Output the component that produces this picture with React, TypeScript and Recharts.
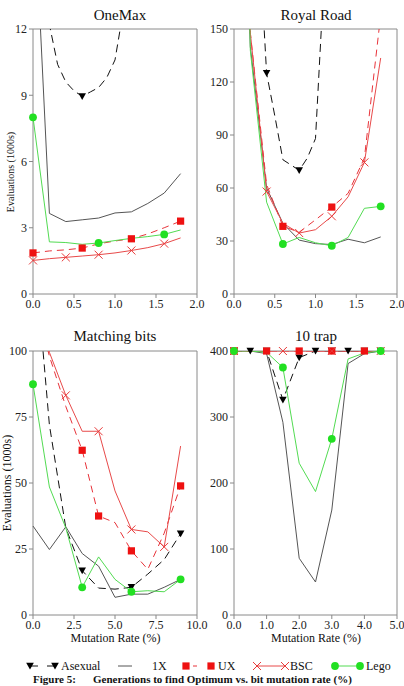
import React from 'react'
import { ComposedChart, Line, Scatter, XAxis, YAxis, ReferenceArea } from 'recharts'

const FONT = '"Liberation Serif", "Times New Roman", serif'

// OneMax, mutation rate (%) vs evaluations (1000s)
const oneMaxRates = [0, 0.2, 0.4, 0.6, 0.8, 1.0, 1.2, 1.4, 1.6, 1.8]
const oneMaxAsexualRates = [0.1, 0.2, 0.3, 0.4, 0.5, 0.6, 0.7, 0.8, 0.9, 1.0, 1.1]
const oneMaxAsexual = [17, 12.2, 10.4, 9.6, 9.2, 8.95, 9.15, 9.35, 9.8, 10.6, 12.8]
const oneMax1X = [19, 3.65, 3.28, 3.36, 3.44, 3.67, 3.72, 4.1, 4.57, 5.45]
const oneMaxUX = [1.86, 1.95, 2.0, 2.08, 2.27, 2.4, 2.5, 2.72, 3.0, 3.3]
const oneMaxBSC = [1.52, 1.6, 1.66, 1.72, 1.78, 1.86, 1.97, 2.1, 2.28, 2.54]
const oneMaxLego = [8.0, 2.36, 2.33, 2.25, 2.31, 2.42, 2.52, 2.6, 2.7, 2.9]

// Royal Road
const royalRates = [0, 0.2, 0.4, 0.6, 0.8, 1.0, 1.2, 1.4, 1.6, 1.8]
const royalAsexualRates = [0.3, 0.4, 0.5, 0.6, 0.7, 0.8, 0.9, 1.0, 1.1]
const royalAsexual = [208, 125, 101, 76, 73, 70, 77, 88, 175]
const royal1X = [400, 140, 60, 40, 30.5, 28.5, 28, 31, 29, 32.3]
const royalUX = [400, 148, 62, 38.3, 35, 42, 49.2, 57, 77, 158]
const royalBSC = [400, 148, 58, 40, 34.5, 36.4, 44, 55, 74.5, 133.6]
const royalLego = [600, 138, 52, 28.3, 32, 29, 27.3, 32, 48.5, 49.6]

// Matching bits
const matchRates = [0, 1, 2, 3, 4, 5, 6, 7, 8, 9]
const matchAsexual = [144, 72, 33, 16.8, 10.2, 9.8, 10.5, 15.5, 21, 30.8]
const match1X = [33.7, 24.8, 33.4, 23.3, 18.5, 6.7, 7.9, 7.9, 10.5, 13.5]
const matchUX = [123, 98, 79, 62.4, 37.5, 35, 24.3, 17.3, 31, 48.9]
const matchBSC = [140, 99.5, 83.2, 69.6, 69.6, 47, 32.4, 31.5, 25.8, 64]
const matchLego = [87.4, 48.5, 33, 10.5, 22, 13.5, 8.8, 9.2, 8.8, 13.5]

// 10 trap
const trapRates = [0, 0.5, 1.0, 1.5, 2.0, 2.5, 3.0, 3.5, 4.0, 4.5]
const trapAsexual = [400, 400, 400, 326, 390, 400, 400, 400, 400, 400]
const trap1X = [400, 400, 396, 292, 86, 50, 159, 381, 396, 400]
const trapUX = [400, 400, 400, 400, 400, 400, 400, 400, 400, 400]
const trapBSC = [400, 400, 400, 400, 400, 400, 400, 400, 400, 400]
const trapLego = [400, 400, 398, 375, 230, 187, 267, 388, 397, 400]

// rates that carry a point symbol
const oneMaxMarks = { asexual: [0.6], ux: [0, 0.6, 1.2, 1.8], bsc: [0, 0.4, 0.8, 1.2, 1.6], lego: [0, 0.8, 1.6] }
const royalMarks = { asexual: [0.4, 0.8], ux: [0.6, 1.2], bsc: [0.4, 0.8, 1.2, 1.6], lego: [0.6, 1.2, 1.8] }
const matchMarks = { asexual: [3, 6, 9], ux: [3, 4, 6, 9], bsc: [2, 4, 6, 8], lego: [0, 3, 6, 9] }
const trapMarks = { asexual: trapRates, ux: [0, 1, 2, 3, 4], bsc: [0, 1.5, 3, 4.5], lego: [0, 1.5, 3, 4.5] }

const oneMaxXTicks = [0, 0.5, 1, 1.5, 2]
const oneMaxYTicks = [0, 3, 6, 9, 12]
const royalYTicks = [0, 30, 60, 90, 120, 150]
const matchXTicks = [0, 2.5, 5, 7.5, 10]
const matchYTicks = [0, 25, 50, 75, 100]
const trapXTicks = [0, 1, 2, 3, 4, 5]
const trapYTicks = [0, 100, 200, 300, 400]

type Kind = 'asexual' | 'onex' | 'ux' | 'bsc' | 'lego'

const STYLE: Record<Kind, { stroke: string; dash?: string }> = {
  asexual: { stroke: '#111', dash: '8 5' },
  onex: { stroke: '#555' },
  ux: { stroke: '#e8333a', dash: '7 5' },
  bsc: { stroke: '#e84a4a' },
  lego: { stroke: '#52db52' }
}

function Marker({ kind, cx, cy }: { kind: Kind; cx: number; cy: number }) {
  if (kind === 'asexual')
    return <path d={`M${cx - 3.8},${cy - 3.2}L${cx + 3.8},${cy - 3.2}L${cx},${cy + 3.6}Z`} fill="#000" />
  if (kind === 'ux') return <rect x={cx - 3.6} y={cy - 3.6} width={7.2} height={7.2} fill="#ee1111" />
  if (kind === 'bsc')
    return (
      <path
        d={`M${cx - 4},${cy - 4}L${cx + 4},${cy + 4}M${cx + 4},${cy - 4}L${cx - 4},${cy + 4}`}
        stroke="#e83a3a"
        strokeWidth={1}
        fill="none"
      />
    )
  if (kind === 'lego') return <circle cx={cx} cy={cy} r={3.9} fill="#22e022" />
  return null
}

interface SeriesDef {
  kind: Kind
  rates: number[]
  values: number[]
  marks: number[]
}

interface PanelDef {
  title: string
  titleX: number
  left: number
  top: number
  width: number
  margin: { top: number; right: number; left: number }
  yWidth: number
  xMax: number
  xTicks: number[]
  yMax: number
  yTicks: number[]
  xFmt: (v: number) => string
  series: SeriesDef[]
}

const fmt1 = (v: number) => v.toFixed(1)

function build(
  rates: number[],
  asexualRates: number[],
  asexual: number[],
  onex: number[],
  ux: number[],
  bsc: number[],
  lego: number[],
  marks: { asexual: number[]; ux: number[]; bsc: number[]; lego: number[] }
): SeriesDef[] {
  return [
    { kind: 'asexual', rates: asexualRates, values: asexual, marks: marks.asexual },
    { kind: 'onex', rates, values: onex, marks: [] },
    { kind: 'ux', rates, values: ux, marks: marks.ux },
    { kind: 'bsc', rates, values: bsc, marks: marks.bsc },
    { kind: 'lego', rates, values: lego, marks: marks.lego }
  ]
}

const PANELS: PanelDef[] = [
  {
    title: 'OneMax',
    titleX: 120,
    left: 0,
    top: 0,
    width: 210,
    margin: { top: 29, right: 13, left: 5 },
    yWidth: 28,
    xMax: 2,
    xTicks: oneMaxXTicks,
    yMax: 12,
    yTicks: oneMaxYTicks,
    xFmt: fmt1,
    series: build(oneMaxRates, oneMaxAsexualRates, oneMaxAsexual, oneMax1X, oneMaxUX, oneMaxBSC, oneMaxLego, oneMaxMarks)
  },
  {
    title: 'Royal Road',
    titleX: 316,
    left: 200,
    top: 0,
    width: 204,
    margin: { top: 29, right: 7, left: 5 },
    yWidth: 29,
    xMax: 2,
    xTicks: oneMaxXTicks,
    yMax: 150,
    yTicks: royalYTicks,
    xFmt: fmt1,
    series: build(royalRates, royalAsexualRates, royalAsexual, royal1X, royalUX, royalBSC, royalLego, royalMarks)
  },
  {
    title: 'Matching bits',
    titleX: 115,
    left: 0,
    top: 321,
    width: 210,
    margin: { top: 30, right: 13, left: 5 },
    yWidth: 28,
    xMax: 10,
    xTicks: matchXTicks,
    yMax: 100,
    yTicks: matchYTicks,
    xFmt: fmt1,
    series: build(matchRates, matchRates, matchAsexual, match1X, matchUX, matchBSC, matchLego, matchMarks)
  },
  {
    title: '10 trap',
    titleX: 316,
    left: 200,
    top: 321,
    width: 204,
    margin: { top: 30, right: 7, left: 5 },
    yWidth: 29,
    xMax: 5,
    xTicks: trapXTicks,
    yMax: 400,
    yTicks: trapYTicks,
    xFmt: fmt1,
    series: build(trapRates, trapRates, trapAsexual, trap1X, trapUX, trapBSC, trapLego, trapMarks)
  }
]

const tickStyle = { fill: '#222', fontSize: 12, fontFamily: FONT }

function valueAt(s: SeriesDef, x: number) {
  const i = s.rates.findIndex(r => Math.abs(r - x) < 1e-6)
  return s.values[i]
}

function Panel({ p }: { p: PanelDef }) {
  return (
    <div style={{ position: 'absolute', left: p.left, top: p.top }}>
      <ComposedChart width={p.width} height={310} margin={{ ...p.margin, bottom: 0 }}>
        <XAxis
          type="number"
          dataKey="x"
          domain={[0, p.xMax]}
          ticks={p.xTicks}
          interval={0}
          tickFormatter={p.xFmt}
          axisLine={false}
          tickLine={{ stroke: '#888' }}
          tickSize={4}
          tickMargin={1}
          height={16}
          tick={tickStyle}
        />
        <YAxis
          yAxisId="main"
          type="number"
          domain={[0, p.yMax]}
          allowDataOverflow
          ticks={p.yTicks}
          interval={0}
          axisLine={false}
          tickLine={{ stroke: '#888' }}
          tickSize={4}
          tickMargin={2}
          width={p.yWidth}
          tick={tickStyle}
        />
        <YAxis yAxisId="marks" type="number" domain={[0, p.yMax]} hide />
        <ReferenceArea yAxisId="main" x1={0} x2={p.xMax} y1={0} y2={p.yMax} fill="none" stroke="#8a8a8a" strokeWidth={1} />
        {p.series.map(s => (
          <Line
            key={s.kind}
            yAxisId="main"
            data={s.rates.map((x, i) => ({ x, y: s.values[i] }))}
            dataKey="y"
            type="linear"
            stroke={STYLE[s.kind].stroke}
            strokeDasharray={STYLE[s.kind].dash}
            strokeWidth={1}
            dot={false}
            activeDot={false}
            isAnimationActive={false}
          />
        ))}
        {p.series
          .filter(s => s.marks.length > 0)
          .map(s => (
            <Scatter
              key={s.kind + '-marks'}
              yAxisId="marks"
              data={s.marks.map(x => ({ x, y: valueAt(s, x) }))}
              dataKey="y"
              isAnimationActive={false}
              shape={(props: any) => <Marker kind={s.kind} cx={props.cx} cy={props.cy} />}
            />
          ))}
      </ComposedChart>
    </div>
  )
}

function Labels() {
  return (
    <svg
      width={404}
      height={686}
      style={{ position: 'absolute', left: 0, top: 0, pointerEvents: 'none' }}
      fontFamily={FONT}
    >
      {PANELS.map(p => (
        <text key={p.title} x={p.titleX} y={p.top + 19.5} textAnchor="middle" fontSize={15} fill="#111">
          {p.title}
        </text>
      ))}
      <text transform="translate(13.5,172) rotate(-90)" textAnchor="middle" fontSize={10} fill="#111">
        Evaluations (1000s)
      </text>
      <text transform="translate(11,483) rotate(-90)" textAnchor="middle" fontSize={12} fill="#111">
        Evaluations (1000s)
      </text>
      <text x={115.5} y={642} textAnchor="middle" fontSize={12} fill="#111">
        Mutation Rate (%)
      </text>
      <text x={316} y={642} textAnchor="middle" fontSize={12} fill="#111">
        Mutation Rate (%)
      </text>

      {/* key */}
      <g fontSize={12} fill="#111">
        <line x1={30} y1={666} x2={55} y2={666} stroke="#111" strokeDasharray="8 9" />
        <Marker kind="asexual" cx={30} cy={666} />
        <Marker kind="asexual" cx={55} cy={666} />
        <text x={61} y={670}>Asexual</text>

        <line x1={118} y1={666} x2={132} y2={666} stroke="#555" />
        <text x={152} y={670}>1X</text>

        <line x1={186} y1={666} x2={211} y2={666} stroke="#e8333a" strokeDasharray="0 7 4 14" />
        <Marker kind="ux" cx={186} cy={666} />
        <Marker kind="ux" cx={211} cy={666} />
        <text x={218} y={670}>UX</text>

        <line x1={257} y1={666} x2={285} y2={666} stroke="#e84a4a" />
        <Marker kind="bsc" cx={257} cy={666} />
        <Marker kind="bsc" cx={285} cy={666} />
        <text x={290} y={670}>BSC</text>

        <line x1={335} y1={666} x2={360} y2={666} stroke="#52db52" />
        <Marker kind="lego" cx={335} cy={666} />
        <Marker kind="lego" cx={360} cy={666} />
        <text x={366} y={670}>Lego</text>
      </g>

      <text x={33} y={683} fontSize={11} fontWeight="bold" fill="#111">
        Figure 5:
      </text>
      <text x={93} y={683} fontSize={11} fontWeight="bold" fill="#111">
        Generations to find Optimum vs. bit mutation rate (%)
      </text>
    </svg>
  )
}

export default function App() {
  return (
    <div
      style={{
        position: 'absolute',
        left: 0,
        top: 0,
        width: 404,
        height: 686,
        overflow: 'hidden',
        background: '#fff',
        fontFamily: FONT
      }}
    >
      {PANELS.map(p => (
        <Panel key={p.title} p={p} />
      ))}
      <Labels />
    </div>
  )
}
